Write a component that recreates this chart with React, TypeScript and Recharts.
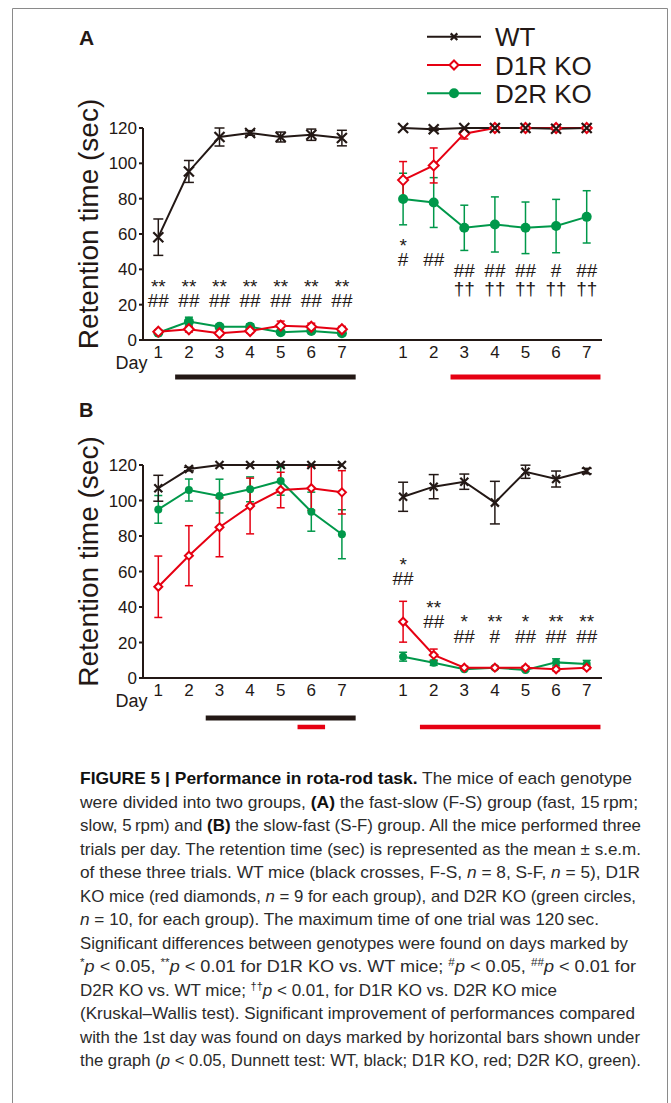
import React from "react";
import {
  ComposedChart,
  ErrorBar,
  Line,
  ReferenceLine,
  Scatter,
  XAxis,
  YAxis,
} from "recharts";

const INK = "#231815";
const RED = "#e60012";
const GREEN = "#00984a";
const SANS = '"Liberation Sans", Arial, Helvetica, sans-serif';
const CAPTION_FONT = '"Liberation Sans Narrow", "Liberation Sans", Arial, sans-serif';

// x positions: first block of days sits at 1..7, the second block is shifted by 8
const days = [1, 2, 3, 4, 5, 6, 7];
const blockShift = 8;
const dayTicks = [1, 2, 3, 4, 5, 6, 7, 9, 10, 11, 12, 13, 14, 15];
const yTicks = [0, 20, 40, 60, 80, 100, 120];

const genotypes = ["WT", "D1R KO", "D2R KO"];
const colors: Record<string, string> = { WT: INK, "D1R KO": RED, "D2R KO": GREEN };

// ---- A: fast-slow group (fast block, then slow block)
const aFastWt = [58.2, 95.4, 114.9, 117.2, 114.9, 116.2, 114.3];
const aFastWtSem = [10.3, 6.2, 5.1, 1.3, 2.8, 3.2, 4.4];
const aFastD1 = [4.7, 6.1, 3.8, 5.1, 8.1, 7.5, 6.1];
const aFastD1Sem = [1.0, 1.6, 1.0, 1.2, 2.6, 2.0, 1.6];
const aFastD2 = [4.1, 10.4, 7.5, 7.5, 4.4, 5.1, 3.8];
const aFastD2Sem = [0.6, 2.5, 1.2, 1.6, 0.8, 0.8, 0.6];

const aSlowWt = [120, 119.3, 120, 120, 120, 119.6, 120];
const aSlowWtSem = [0, 0.7, 0, 0, 0, 0.4, 0];
const aSlowD1 = [90.5, 98.8, 116.8, 120, 120, 120, 120];
const aSlowD1Sem = [10.5, 9.9, 3.0, 0, 0, 0, 0];
const aSlowD2 = [79.8, 77.8, 63.5, 65.4, 63.5, 64.5, 69.7];
const aSlowD2Sem = [14.6, 14.1, 12.8, 15.6, 14.6, 15.1, 14.8];

// ---- B: slow-fast group (slow block, then fast block)
const bSlowWt = [106.9, 117.7, 120, 120, 120, 120, 120];
const bSlowWtSem = [7.3, 1.0, 0, 0, 0, 0, 0];
const bSlowD1 = [51.4, 68.9, 84.9, 96.9, 105.9, 106.9, 104.6];
const bSlowD1Sem = [17.3, 16.9, 16.6, 15.7, 10.0, 12.4, 12.2];
const bSlowD2 = [95.0, 105.9, 102.5, 106.3, 111.0, 93.7, 81.0];
const bSlowD2Sem = [7.8, 6.2, 9.5, 7.0, 8.0, 11.0, 13.8];

const bFastWt = [102.1, 107.8, 110.6, 98.8, 116.2, 112.1, 116.6];
const bFastWtSem = [8.2, 6.8, 4.3, 12.0, 3.7, 4.5, 1.5];
const bFastD1 = [31.7, 13.0, 5.8, 5.8, 5.8, 4.9, 5.8];
const bFastD1Sem = [11.5, 3.3, 0.8, 0.8, 0.8, 0.8, 0.8];
const bFastD2 = [12.0, 8.6, 4.9, 5.8, 4.5, 8.8, 7.9];
const bFastD2Sem = [2.5, 1.5, 0.6, 0.6, 0.6, 2.0, 2.0];

// significance marks, one row per line of symbols (level = baseline, in sec)
const aMarkRows = [
  { block: 0, level: 26.6, marks: ["**", "**", "**", "**", "**", "**", "**"] },
  { block: 0, level: 18.7, marks: ["##", "##", "##", "##", "##", "##", "##"] },
  { block: 1, level: 50, marks: ["*", "", "", "", "", "", ""] },
  { block: 1, level: 42, marks: ["#", "##", "", "", "", "", ""] },
  { block: 1, level: 35.9, marks: ["", "", "##", "##", "##", "#", "##"] },
  { block: 1, level: 25.3, marks: ["", "", "††", "††", "††", "††", "††"] },
];
const bMarkRows = [
  { block: 1, level: 60.5, marks: ["*", "", "", "", "", "", ""] },
  { block: 1, level: 52.2, marks: ["##", "", "", "", "", "", ""] },
  { block: 1, level: 36, marks: ["", "**", "", "", "", "", ""] },
  { block: 1, level: 28.2, marks: ["", "##", "*", "**", "*", "**", "**"] },
  { block: 1, level: 19.9, marks: ["", "", "##", "#", "##", "##", "##"] },
];

// days with significant improvement vs day 1 (Dunnett)
const aImproved = [
  { genotype: "WT", block: 0, from: 2, to: 7 },
  { genotype: "D1R KO", block: 1, from: 3, to: 7 },
];
const bImproved = [
  { genotype: "WT", block: 0, from: 3, to: 7 },
  { genotype: "D1R KO", block: 0, from: 6, to: 6 },
  { genotype: "D1R KO", block: 1, from: 2, to: 7 },
];

type Series = { genotype: string; block: number; means: number[]; sems: number[] };

const aSeries: Series[] = [
  { genotype: "D2R KO", block: 0, means: aFastD2, sems: aFastD2Sem },
  { genotype: "D2R KO", block: 1, means: aSlowD2, sems: aSlowD2Sem },
  { genotype: "D1R KO", block: 0, means: aFastD1, sems: aFastD1Sem },
  { genotype: "D1R KO", block: 1, means: aSlowD1, sems: aSlowD1Sem },
  { genotype: "WT", block: 0, means: aFastWt, sems: aFastWtSem },
  { genotype: "WT", block: 1, means: aSlowWt, sems: aSlowWtSem },
];
const bSeries: Series[] = [
  { genotype: "D2R KO", block: 0, means: bSlowD2, sems: bSlowD2Sem },
  { genotype: "D2R KO", block: 1, means: bFastD2, sems: bFastD2Sem },
  { genotype: "D1R KO", block: 0, means: bSlowD1, sems: bSlowD1Sem },
  { genotype: "D1R KO", block: 1, means: bFastD1, sems: bFastD1Sem },
  { genotype: "WT", block: 0, means: bSlowWt, sems: bSlowWtSem },
  { genotype: "WT", block: 1, means: bFastWt, sems: bFastWtSem },
];

function toPoints(s: Series) {
  return days.map((d, i) => ({ x: d + s.block * blockShift, y: s.means[i], err: s.sems[i] }));
}

function drawMarker(genotype: string, cx: number, cy: number, s: number, key?: React.Key) {
  if (genotype === "WT") {
    const d = `M${cx - s},${cy - s}L${cx + s},${cy + s}M${cx - s},${cy + s}L${cx + s},${cy - s}`;
    return <path key={key} d={d} stroke={INK} strokeWidth={2.2} fill="none" />;
  }
  if (genotype === "D1R KO") {
    const pts = `${cx},${cy - s} ${cx + s},${cy} ${cx},${cy + s} ${cx - s},${cy}`;
    return <polygon key={key} points={pts} fill="#fff" stroke={RED} strokeWidth={2} />;
  }
  return <circle key={key} cx={cx} cy={cy} r={s} fill={GREEN} />;
}

interface PanelProps {
  height: number;
  marginTop: number;
  marginBottom: number;
  series: Series[];
  markRows: typeof aMarkRows;
  improved: typeof aImproved;
  barLevels: Record<string, number>;
  markerSize: number;
  barWidths: Record<string, number>;
}

function Panel({ height, marginTop, marginBottom, series, markRows, improved, barLevels, markerSize, barWidths }: PanelProps) {
  const marks = markRows.flatMap((row) =>
    row.marks
      .map((text, i) => ({ x: days[i] + row.block * blockShift, y: row.level, text }))
      .filter((m) => m.text !== ""),
  );

  return (
    <ComposedChart
      width={671}
      height={height}
      margin={{ top: marginTop, right: 69, bottom: marginBottom, left: 0 }}
    >
      <XAxis
        type="number"
        dataKey="x"
        domain={[0.5, 15.5]}
        ticks={dayTicks}
        interval={0}
        tickFormatter={(v: number) => String(v > blockShift ? v - blockShift : v)}
        tickLine={false}
        tickSize={4}
        height={30}
        axisLine={{ stroke: INK, strokeWidth: 2 }}
        tick={{ fill: INK, fontSize: 17, fontFamily: SANS }}
        label={{
          content: (p: any) => {
            const vb = p.viewBox || {};
            return (
              <text x={(vb.x ?? 143) - 11.5} y={(vb.y ?? 340) + 29} textAnchor="middle" fontSize={18} fontFamily={SANS} fill={INK}>
                Day
              </text>
            );
          },
        }}
      />
      <YAxis
        type="number"
        domain={[0, 120]}
        ticks={yTicks}
        interval={0}
        width={143}
        tickSize={4}
        tickLine={{ stroke: INK, strokeWidth: 2 }}
        axisLine={{ stroke: INK, strokeWidth: 2 }}
        tick={{ fill: INK, fontSize: 17, fontFamily: SANS }}
        label={{
          content: (p: any) => {
            const vb = p.viewBox || {};
            const cx = 98;
            const cy = (vb.y ?? marginTop) + (vb.height ?? 212) / 2 - 10;
            return (
              <text x={cx} y={cy} transform={`rotate(-90 ${cx} ${cy})`} textAnchor="middle" fontSize={28} fontFamily={SANS} fill={INK}>
                Retention time (sec)
              </text>
            );
          },
        }}
      />
      {improved.map((b, i) => {
        const off = b.block * blockShift;
        const lvl = barLevels[b.genotype];
        return (
          <ReferenceLine
            key={`bar${i}`}
            segment={[
              { x: b.from + off - 0.45, y: lvl },
              { x: b.to + off + 0.45, y: lvl },
            ]}
            stroke={colors[b.genotype]}
            strokeWidth={barWidths[b.genotype]}
            ifOverflow="visible"
          />
        );
      })}
      {series.map((s, i) => (
        <Line
          key={`s${i}`}
          data={toPoints(s)}
          dataKey="y"
          type="linear"
          stroke={colors[s.genotype]}
          strokeWidth={2}
          dot={(p: any) => drawMarker(s.genotype, p.cx, p.cy, markerSize, p.index)}
          activeDot={false}
          isAnimationActive={false}
        >
          <ErrorBar
            dataKey="err"
            width={s.genotype === "WT" ? 5 : 4}
            stroke={colors[s.genotype]}
            strokeWidth={1.5}
          />
        </Line>
      ))}
      <Scatter
        data={marks}
        dataKey="y"
        isAnimationActive={false}
        shape={(p: any) => (
          <text x={p.cx} y={p.cy} textAnchor="middle" fontSize={19} fontFamily={SANS} fill={INK}>
            {p.payload.text}
          </text>
        )}
      />
    </ComposedChart>
  );
}

const captionWidths = [552, 558, 561, 561, 560, 556, 519, 548, 556, 477, 555, 560, 561];

function CaptionLine({ i, children }: { i: number; children: React.ReactNode }) {
  return (
    <text
      x={80}
      y={784 + i * 23.5}
      textLength={captionWidths[i]}
      lengthAdjust="spacingAndGlyphs"
      fontSize={17}
      fontFamily={CAPTION_FONT}
      fill="#2b2b2b"
    >
      {children}
    </text>
  );
}

const Sup = ({ s }: { s: string }) => (
  <>
    <tspan fontSize={11} dy={-6}>{s}</tspan>
    <tspan dy={6} fontStyle="italic">p</tspan>
  </>
);

export default function App() {
  return (
    <div style={{ position: "absolute", left: 0, top: 0, width: 671, height: 1103, background: "#fff", overflow: "hidden" }}>
      <svg width={671} height={1103} style={{ position: "absolute", left: 0, top: 0 }}>
        <path d="M12.5,1103 L12.5,8.5 L667.5,8.5 L667.5,1103" fill="none" stroke="#8a8a8a" strokeWidth={1} />
        <text x={79} y={45} fontSize={21} fontWeight="bold" fontFamily={SANS} fill={INK}>A</text>
        <text x={79} y={417} fontSize={20} fontWeight="bold" fontFamily={SANS} fill={INK}>B</text>
        {genotypes.map((g, i) => {
          const y = 36.7 + i * 28.3;
          const s = g === "WT" ? 3.3 : g === "D1R KO" ? 4.5 : 5;
          return (
            <g key={g}>
              <line x1={427} x2={481} y1={y} y2={y} stroke={colors[g]} strokeWidth={2} />
              {drawMarker(g, 454, y, s)}
              <text x={495} y={y + 9.5} fontSize={26} fontFamily={SANS} fill={INK}>{g}</text>
            </g>
          );
        })}
        <CaptionLine i={0}>
          <tspan fontWeight="bold" fill="#111">FIGURE 5 | Performance in rota-rod task.</tspan> The mice of each genotype
        </CaptionLine>
        <CaptionLine i={1}>
          were divided into two groups, <tspan fontWeight="bold" fill="#111">(A)</tspan> the fast-slow (F-S) group (fast, 15{"\u2009"}rpm;
        </CaptionLine>
        <CaptionLine i={2}>
          slow, 5{"\u2009"}rpm) and <tspan fontWeight="bold" fill="#111">(B)</tspan> the slow-fast (S-F) group. All the mice performed three
        </CaptionLine>
        <CaptionLine i={3}>trials per day. The retention time (sec) is represented as the mean ± s.e.m.</CaptionLine>
        <CaptionLine i={4}>
          of these three trials. WT mice (black crosses, F-S, <tspan fontStyle="italic">n</tspan> = 8, S-F, <tspan fontStyle="italic">n</tspan> = 5), D1R
        </CaptionLine>
        <CaptionLine i={5}>
          KO mice (red diamonds, <tspan fontStyle="italic">n</tspan> = 9 for each group), and D2R KO (green circles,
        </CaptionLine>
        <CaptionLine i={6}>
          <tspan fontStyle="italic">n</tspan> = 10, for each group). The maximum time of one trial was 120{"\u2009"}sec.
        </CaptionLine>
        <CaptionLine i={7}>Significant differences between genotypes were found on days marked by</CaptionLine>
        <CaptionLine i={8}>
          <Sup s="*" /> &lt; 0.05, <Sup s="**" /> &lt; 0.01 for D1R KO vs. WT mice; <Sup s="#" /> &lt; 0.05, <Sup s="##" /> &lt; 0.01 for
        </CaptionLine>
        <CaptionLine i={9}>
          D2R KO vs. WT mice; <Sup s="††" /> &lt; 0.01, for D1R KO vs. D2R KO mice
        </CaptionLine>
        <CaptionLine i={10}>(Kruskal–Wallis test). Significant improvement of performances compared</CaptionLine>
        <CaptionLine i={11}>with the 1st day was found on days marked by horizontal bars shown under</CaptionLine>
        <CaptionLine i={12}>
          the graph (<tspan fontStyle="italic">p</tspan> &lt; 0.05, Dunnett test: WT, black; D1R KO, red; D2R KO, green).
        </CaptionLine>
      </svg>
      <div style={{ position: "absolute", left: 0, top: 0 }}>
        <Panel
          height={395}
          marginTop={128}
          marginBottom={25}
          series={aSeries}
          markRows={aMarkRows}
          improved={aImproved}
          barLevels={{ WT: -21, "D1R KO": -21 }}
          barWidths={{ WT: 5, "D1R KO": 5 }}
          markerSize={5}
        />
      </div>
      <div style={{ position: "absolute", left: 0, top: 395 }}>
        <Panel
          height={345}
          marginTop={70}
          marginBottom={32}
          series={bSeries}
          markRows={bMarkRows}
          improved={bImproved}
          barLevels={{ WT: -22.5, "D1R KO": -27.6 }}
          barWidths={{ WT: 5, "D1R KO": 4.5 }}
          markerSize={4}
        />
      </div>
    </div>
  );
}
